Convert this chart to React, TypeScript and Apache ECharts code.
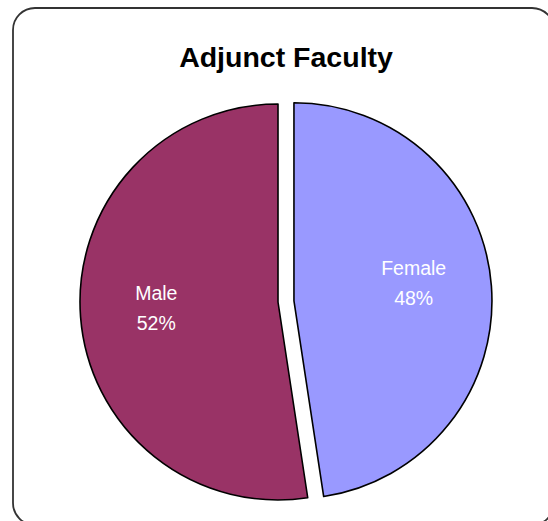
import React, { useEffect, useRef } from "react";
import * as echarts from "echarts";

const titleText = "Adjunct Faculty";
const categories = ["Female", "Male"];
const values = [47.6, 52.4];
const colors = ["#9999FF", "#993366"];
const exploded = [true, false];
const labelOffsets = [
  [18, -10],
  [-20, -2],
];

export default function App() {
  const ref = useRef<HTMLDivElement>(null);
  useEffect(() => {
    if (!ref.current) return;
    const chart = echarts.init(ref.current, undefined, { renderer: "svg" });
    const total = values.reduce((a, b) => a + b, 0);
    chart.setOption({
      animation: false,
      backgroundColor: "#ffffff",
      title: {
        text: titleText,
        left: 281,
        top: 37,
        textAlign: "center",
        textStyle: {
          fontFamily: "Liberation Sans, Arial, sans-serif",
          fontWeight: "bold",
          fontSize: 28.5,
          color: "#000",
        },
      },
      graphic: [
        {
          type: "rect",
          shape: { x: 13, y: 8, width: 541, height: 517, r: 22 },
          style: { fill: "none", stroke: "#333333", lineWidth: 1.8 },
          silent: true,
          z: 0,
        },
      ],
      series: [
        {
          type: "pie",
          center: [278, 302],
          radius: 198,
          startAngle: 90,
          clockwise: true,
          selectedMode: "single",
          selectedOffset: 16,
          avoidLabelOverlap: false,
          label: {
            show: true,
            position: "inside",
            color: "#ffffff",
            fontFamily: "Liberation Sans, Arial, sans-serif",
            fontSize: 19.5,
            lineHeight: 30,
            align: "center",
            formatter: (p: any) =>
              `${p.name}\n${Math.round((p.value / total) * 100)}%`,
          },
          labelLine: { show: false },
          itemStyle: { borderColor: "#000", borderWidth: 1.6 },
          emphasis: { disabled: true },
          select: { itemStyle: { borderColor: "#000", borderWidth: 1.6 } },
          data: categories.map((name, i) => ({
            name,
            value: values[i],
            selected: exploded[i],
            itemStyle: { color: colors[i] },
            label: { offset: labelOffsets[i] },
            select: {
              itemStyle: { color: colors[i] },
              label: { offset: labelOffsets[i] },
            },
          })),
        },
      ],
    });
    return () => chart.dispose();
  }, []);
  return (
    <div
      ref={ref}
      style={{ position: "fixed", left: 0, top: 0, width: 548, height: 521 }}
    />
  );
}
